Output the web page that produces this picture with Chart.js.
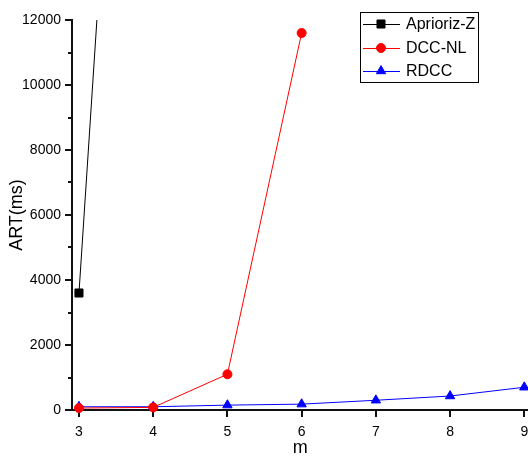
<!DOCTYPE html>
<html>
<head>
<meta charset="utf-8">
<script src="https://cdn.jsdelivr.net/npm/chart.js@4/dist/chart.umd.min.js"></script>
<style>
html,body{margin:0;padding:0;background:#fff;overflow:hidden;}
#wrap{position:relative;width:528px;height:457px;overflow:hidden;}
</style>
</head>
<body>
<div id="wrap"><canvas id="c" width="535" height="457"></canvas></div>
<script>
// ---- data ----
const mValues = [3, 4, 5, 6, 7, 8, 9];
const apriorizM = [3, 4];
const apriorizZ = [3600, 38400];
const dccM = [3, 4, 5, 6];
const dccNL = [60, 80, 1100, 11600];
const rdccM = [3, 4, 5, 6, 7, 8, 9];
const rdcc = [100, 100, 150, 180, 300, 430, 700];
const yTickValues = [0, 2000, 4000, 6000, 8000, 10000, 12000];
const yMinorTicks = [1000, 3000, 5000, 7000, 9000, 11000];
const seriesNames = ['Aprioriz-Z', 'DCC-NL', 'RDCC'];

const FONT = "'Liberation Sans', Arial, sans-serif";
const toXY = (xs, ys) => xs.map((x, i) => ({x: x, y: ys[i]}));

const minorTicksPlugin = {
  id: 'minorTicks',
  afterDraw(chart) {
    const ctx = chart.ctx, y = chart.scales.y, a = chart.chartArea;
    ctx.save();
    ctx.strokeStyle = '#111';
    ctx.lineWidth = 2;
    yMinorTicks.forEach(v => {
      const py = Math.round(y.getPixelForValue(v));
      ctx.beginPath();
      ctx.moveTo(a.left - 4, py);
      ctx.lineTo(a.left, py);
      ctx.stroke();
    });
    ctx.restore();
  }
};

const boxLegendPlugin = {
  id: 'boxLegend',
  afterDraw(chart) {
    const ctx = chart.ctx;
    const bx = 360, by = 12, bw = 118, bh = 70;
    ctx.save();
    ctx.strokeStyle = '#000';
    ctx.lineWidth = 1;
    ctx.strokeRect(bx + 0.5, by + 0.5, bw, bh);
    const rows = [24, 48, 71];
    chart.data.datasets.forEach((ds, i) => {
      const ry = rows[i];
      ctx.strokeStyle = ds.borderColor;
      ctx.lineWidth = 1;
      ctx.beginPath();
      ctx.moveTo(363, ry + 0.5);
      ctx.lineTo(400, ry + 0.5);
      ctx.stroke();
      ctx.fillStyle = ds.pointBackgroundColor;
      ctx.strokeStyle = ds.pointBorderColor;
      Chart.helpers.drawPoint(ctx, {
        pointStyle: ds.pointStyle, radius: ds.pointRadius, rotation: 0, borderWidth: 1
      }, 381, ry);
      ctx.fillStyle = '#000';
      ctx.font = '16px ' + FONT;
      ctx.textBaseline = 'middle';
      ctx.textAlign = 'left';
      ctx.fillText(ds.label, 406, ry + 1);
    });
    ctx.restore();
  }
};

const clipAll = {left: 12, right: 12, top: 0, bottom: 12};

new Chart(document.getElementById('c'), {
  type: 'line',
  data: {
    datasets: [
      {
        label: seriesNames[0], data: toXY(apriorizM, apriorizZ),
        borderColor: '#000', backgroundColor: '#000',
        pointBackgroundColor: '#000', pointBorderColor: '#000',
        pointStyle: 'rect', pointRadius: 5.7, borderWidth: 1, clip: clipAll
      },
      {
        label: seriesNames[1], data: toXY(dccM, dccNL),
        borderColor: '#ff0000', backgroundColor: '#ff0000',
        pointBackgroundColor: '#ff0000', pointBorderColor: '#ff0000',
        pointStyle: 'circle', pointRadius: 4.5, borderWidth: 1, clip: clipAll
      },
      {
        label: seriesNames[2], data: toXY(rdccM, rdcc),
        borderColor: '#0000ff', backgroundColor: '#0000ff',
        pointBackgroundColor: '#0000ff', pointBorderColor: '#0000ff',
        pointStyle: 'triangle', pointRadius: 5.4, borderWidth: 1, clip: clipAll
      }
    ]
  },
  options: {
    responsive: false,
    animation: false,
    devicePixelRatio: 1,
    layout: {padding: {top: 20, right: 0, left: 0, bottom: 0}},
    plugins: {legend: {display: false}, tooltip: {enabled: false}},
    elements: {line: {tension: 0}, point: {hoverRadius: 5}},
    scales: {
      x: {
        type: 'linear', min: 2.906, max: 9.054,
        afterBuildTicks(s) { s.ticks = mValues.map(v => ({value: v})); },
        afterFit(s) { s.height = 47; s.paddingLeft = 0; s.paddingRight = 0; },
        grid: {display: true, drawOnChartArea: false, drawTicks: true, tickLength: 7, color: '#111', lineWidth: 2},
        border: {display: true, color: '#111', width: 2},
        ticks: {color: '#000', font: {family: FONT, size: 14}, padding: 7, maxRotation: 0, autoSkip: false,
                callback: v => String(v)},
        title: {display: true, text: 'm', color: '#000', font: {family: FONT, size: 18}, padding: {top: 0, bottom: -2}}
      },
      y: {
        type: 'linear', min: 0, max: 12000,
        afterBuildTicks(s) { s.ticks = yTickValues.map(v => ({value: v})); },
        afterFit(s) { s.width = 72; s.paddingTop = 0; s.paddingBottom = 0; },
        grid: {display: true, drawOnChartArea: false, drawTicks: true, tickLength: 7, color: '#111', lineWidth: 2},
        border: {display: true, color: '#111', width: 2},
        ticks: {color: '#000', font: {family: FONT, size: 14}, padding: 4, callback: v => String(v)},
        title: {display: true, text: 'ART(ms)', color: '#000', font: {family: FONT, size: 18}, padding: {top: 6, bottom: 0}}
      }
    }
  },
  plugins: [minorTicksPlugin, boxLegendPlugin]
});
</script>
</body>
</html>
